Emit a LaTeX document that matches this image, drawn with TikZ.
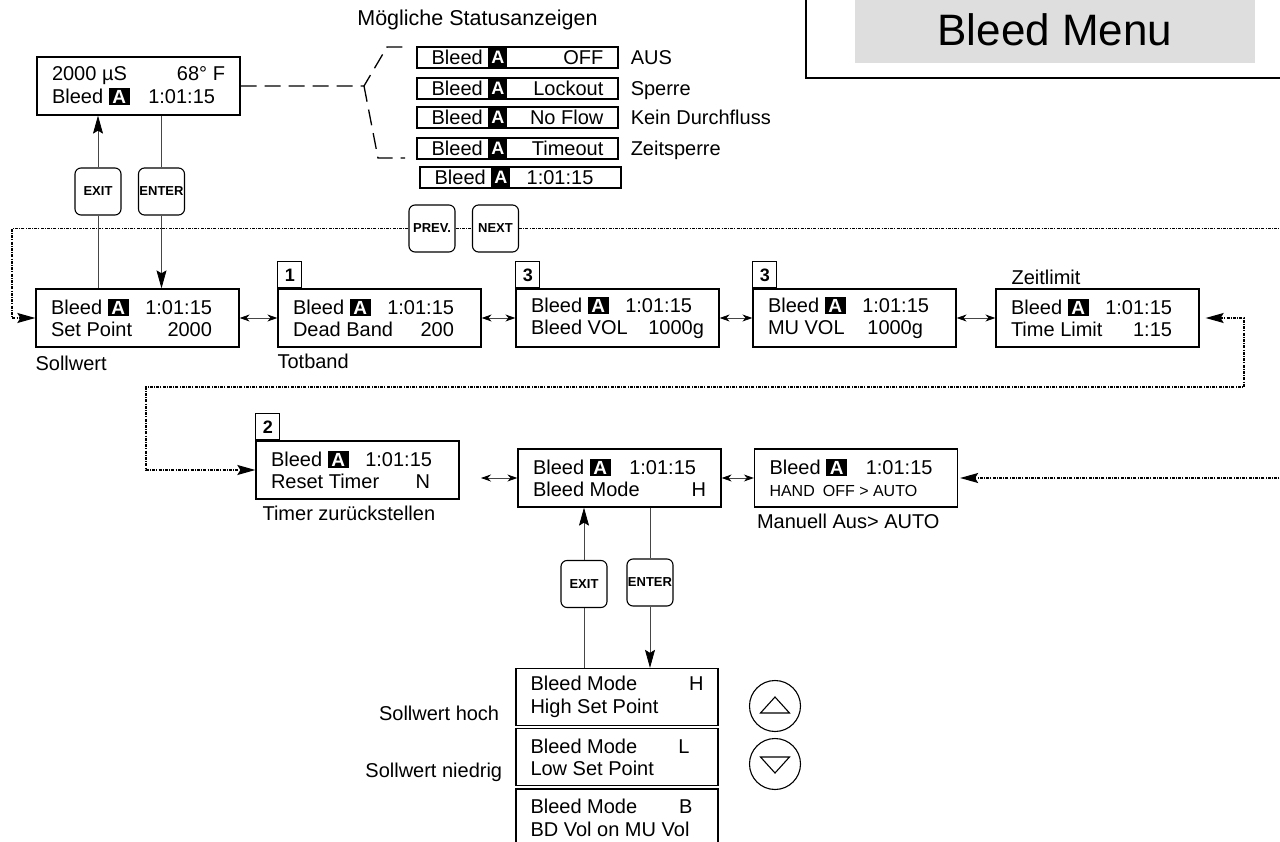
\documentclass[tikz,border=0pt]{standalone}
\usepackage{fontspec}
\setmainfont{Liberation Sans}
\usepackage{tikz}
\usetikzlibrary{arrows.meta, positioning, calc}
\definecolor{menugray}{RGB}{222,222,222}
\definecolor{linkgray}{RGB}{70,70,70}
\newcommand\Abox{{\setlength\fboxsep{2pt}\colorbox{black}{\makebox[17pt]{\textcolor{white}{\bfseries\fontsize{19pt}{19pt}\selectfont A}}}}}
\newcommand\lcdrows[4]{\parbox{173pt}{#1\hfill#2\\#3\hfill#4}}
\newcommand\rpad{\hspace*{12pt}}
\tikzset{
  lcd/.style={draw, line width=1.3pt, minimum width=203pt, minimum height=58pt, inner sep=0pt},
  stat/.style={draw, line width=1.1pt, minimum width=201pt, minimum height=21pt, inner sep=0pt},
  abar/.style={fill=black, text=white, font=\bfseries\fontsize{18pt}{18pt}\selectfont,
               minimum width=19pt, minimum height=21pt, inner sep=0pt},
  keycap/.style={draw, rounded corners=6pt, line width=1.1pt, minimum width=46pt, minimum height=47pt,
                 inner sep=0pt, font=\bfseries\fontsize{13pt}{14pt}\selectfont},
  numtag/.style={draw, line width=0.9pt, minimum width=24pt, minimum height=26pt, inner sep=0pt,
                 font=\bfseries\fontsize{18pt}{18pt}\selectfont},
  link/.style={line width=0.8pt, draw=linkgray},
  swap/.style={link, {Stealth[length=10pt,width=7pt,black]}-{Stealth[length=10pt,width=7pt,black]}},
  push/.style={-{Stealth[length=18pt,width=10pt,inset=3pt,black]}},
  loopline/.style={line width=1.3pt, dash pattern=on 3pt off 1.2pt on 1pt off 1.2pt},
  brace/.style={line width=1.3pt, dash pattern=on 16pt off 8pt},
  note/.style={inner sep=0pt}
}
\begin{document}
\begin{tikzpicture}[x=1pt, y=-1pt, font=\fontsize{20pt}{22.5pt}\selectfont]
    \useasboundingbox (0,0) rectangle (1280,842);
    \clip (0,0) rectangle (1280,842);

    % heading
    \draw[line width=1.3pt] (806,-10) rectangle (1290,78);
    \fill[menugray] (855,-10) rectangle (1255,63);
    \node[note, font=\fontsize{44pt}{44pt}\selectfont] (title) at (1055,30) {Bleed Menu};

    % main display and its possible states
    \node[lcd] (disp) at (138.5,86) {\lcdrows{2000 µS}{68° F}{Bleed \Abox}{1:01:15\hspace*{10pt}}};
    \node[note, font=\fontsize{21.5pt}{24pt}\selectfont] (stattitle) at (477.5,20) {Mögliche Statusanzeigen};
    \foreach \yy/\st/\de [count=\i] in {57.5/OFF/AUS, 88.5/Lockout/Sperre,
                                       117.5/No Flow/Kein Durchfluss, 148.5/Timeout/Zeitsperre} {
      \node[stat] (st\i) at (517.5,\yy) {};
      \node[note, anchor=base west] at ([xshift=15pt,yshift=-7pt]st\i.west) {Bleed};
      \node[abar] at ([xshift=81.5pt]st\i.west) {A};
      \node[note, anchor=base east] at ([xshift=-15pt,yshift=-7pt]st\i.east) {\st};
      \node[note, anchor=base west] (de\i) at ([xshift=12pt,yshift=-7pt]st\i.east) {\de};
    }
    \node[stat] (st5) at (520.5,177.5) {};
    \node[note, anchor=base west] at ([xshift=15pt,yshift=-7pt]st5.west) {Bleed};
    \node[abar] at ([xshift=81.5pt]st5.west) {A};
    \node[note, anchor=base west] at ([xshift=107pt,yshift=-7pt]st5.west) {1:01:15};

    \coordinate (fork) at (364,86);
    \coordinate (bup) at (405,47);
    \coordinate (bdn) at (405,158);
    \draw[brace] (disp.east) -- (fork) -- (387,47) -- (bup);
    \draw[brace] (fork) -- (378,158) -- (bdn);

    % keys
    \node[keycap] (exit1) at (98,191.5) {EXIT};
    \node[keycap] (enter1) at (161.5,191.5) {ENTER};
    \node[keycap] (prev) at (432,228.5) {PREV.};
    \node[keycap] (next) at (495.5,228.5) {NEXT};

    % first row
    \node[lcd] (setpt) at (137.5,318) {\lcdrows{Bleed \Abox}{1:01:15\rpad}{Set Point}{2000\rpad}};
    \node[lcd] (deadb) at (379.5,318) {\lcdrows{Bleed \Abox}{1:01:15\rpad}{Dead Band}{200\rpad}};
    \node[lcd] (bvol) at (617.5,318) {\lcdrows{Bleed \Abox}{1:01:15\rpad}{Bleed VOL}{1000g}};
    \node[lcd] (muvol) at (854.5,318) {\lcdrows{Bleed \Abox}{1:01:15\rpad}{MU VOL}{1000g\hspace*{18pt}}};
    \node[lcd] (tlim) at (1097.5,318) {\lcdrows{Bleed \Abox}{1:01:15\rpad}{Time Limit}{1:15\rpad}};
    \node[numtag, anchor=south west] (tag1) at (deadb.north west) {1};
    \node[numtag, anchor=south west] (tag3a) at (bvol.north west) {3};
    \node[numtag, anchor=south west] (tag3b) at (muvol.north west) {3};
    \node[note, anchor=north west] (lsoll) at ([yshift=-8pt]setpt.south west) {Sollwert};
    \node[note, anchor=north west] (ltot) at ([yshift=-6pt]deadb.south west) {Totband};
    \node[note, anchor=base west] (lzeit) at ([xshift=16pt,yshift=4pt]tlim.north west) {Zeitlimit};
    \draw[swap] (setpt) -- (deadb);
    \draw[swap] (deadb) -- (bvol);
    \draw[swap] (bvol) -- (muvol);
    \draw[swap] (muvol) -- (tlim);

    % second row
    \node[lcd] (reset) at (357.5,470) {\lcdrows{Bleed \Abox}{1:01:15\rpad}{Reset Timer}{N\hspace*{14pt}}};
    \node[numtag, anchor=south west] (tag2) at (reset.north west) {2};
    \node[note, anchor=north west] (ltimer) at ([xshift=7pt,yshift=-6pt]reset.south west) {Timer zurückstellen};
    \node[lcd] (mode) at (619.5,478) {\lcdrows{Bleed \Abox}{1:01:15\hspace*{10pt}}{Bleed Mode}{H}};
    \node[lcd] (hand) at (856,478) {\parbox{173pt}{Bleed \Abox\hfill 1:01:15\hspace*{10pt}\\
        {\fontsize{16pt}{22.5pt}\selectfont HAND\hspace{8pt}OFF > AUTO}}};
    \node[note, anchor=north west] (lhand) at ([xshift=3pt,yshift=-6pt]hand.south west) {Manuell Aus> AUTO};
    \coordinate (mleft) at (481,478);
    \draw[swap] (mleft) -- (mode.west);
    \draw[swap] (mode) -- (hand);

    % loops
    \coordinate (rtop) at (1290,228.5);
    \coordinate (ltop) at (12,228.5);
    \draw[loopline] (prev.east) -- (next.west);
    \draw[loopline] (next.east) -- (rtop);
    \draw[loopline, push] (prev.west) -- (ltop) |- (setpt.west);
    \coordinate (rmid) at (1244,387);
    \coordinate (lmid) at (146,387);
    \draw[loopline, {Stealth[length=18pt,width=10pt,inset=3pt]}-{Stealth[length=18pt,width=10pt,inset=3pt]},
          shorten <=6pt] (tlim.east) -| (rmid) -- (lmid) |- (reset.west);
    \coordinate (rlow) at (1290,478);
    \draw[loopline, push, shorten >=2pt] (rlow) -- (hand.east);

    % exit / enter on the top display
    \draw[link, push] (exit1.north) -- (exit1.north |- disp.south);
    \draw[link] (exit1.south) -- (exit1.south |- setpt.north);
    \draw[link] (enter1.north |- disp.south) -- (enter1.north);
    \draw[link, push] (enter1.south) -- (enter1.south |- setpt.north);

    % bleed mode choices
    \node[keycap] (exit2) at (584,584) {EXIT};
    \node[keycap] (enter2) at (650,582.5) {ENTER};
    \node[lcd, minimum width=202pt, minimum height=57pt] (mh) at (617,697)
      {\lcdrows{Bleed Mode}{H}{High Set Point}{}};
    \node[lcd, minimum width=202pt, minimum height=57pt, below=2pt of mh] (ml)
      {\lcdrows{Bleed Mode}{L\hspace*{14pt}}{Low Set Point}{}};
    \node[lcd, minimum width=202pt, minimum height=57pt, below=2pt of ml] (mb)
      {\lcdrows{Bleed Mode}{B\hspace*{11pt}}{BD Vol on MU Vol}{}};
    \node[note, anchor=east] (lhoch) at ([xshift=-16pt,yshift=-16pt]mh.west) {Sollwert hoch};
    \node[note, anchor=east] (lnied) at ([xshift=-13pt,yshift=-15pt]ml.west) {Sollwert niedrig};
    \draw[link, push] (exit2.north) -- (exit2.north |- mode.south);
    \draw[link] (exit2.south) -- (exit2.south |- mh.north);
    \draw[link] (enter2.north |- mode.south) -- (enter2.north);
    \draw[link, push] (enter2.south) -- (enter2.south |- mh.north);

    \node[circle, draw, line width=1.1pt, minimum size=51pt, inner sep=0pt] (upkey) at (775,706) {};
    \node[circle, draw, line width=1.1pt, minimum size=51pt, inner sep=0pt] (dnkey) at (775,764) {};
    \draw[line width=1.1pt] (upkey.center) ++(-14.5,7) -- ++(29,0) -- ++(-14.5,-16) -- cycle;
    \draw[line width=1.1pt] (dnkey.center) ++(-14.5,-7) -- ++(29,0) -- ++(-14.5,16) -- cycle;
  \end{tikzpicture}
\end{document}
